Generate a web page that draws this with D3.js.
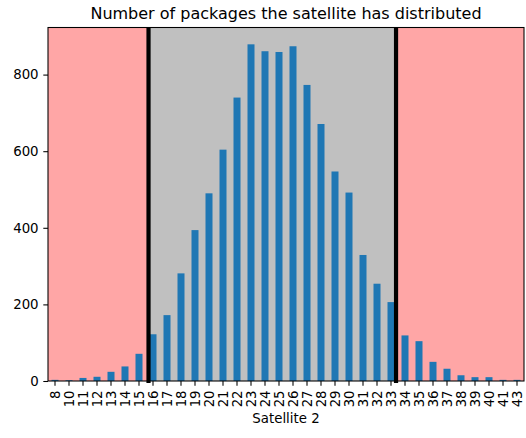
<!DOCTYPE html>
<html>
<head>
<meta charset="utf-8">
<script src="https://cdn.jsdelivr.net/npm/d3@7"></script>
<style>
  html, body { margin: 0; padding: 0; background: #fff; }
  svg { display: block; font-family: "DejaVu Sans", sans-serif; }
</style>
</head>
<body>
<svg id="chart" width="526" height="438"></svg>
<script>
// ---- data ----
const categories = ["8","10","11","12","13","14","15","16","17","18","19","20","21","22","23","24","25",
  "26","27","28","29","30","31","32","33","34","35","36","37","38","39","40","41","43"];
const counts = [3, 2, 8, 11, 24, 38, 71, 122, 172, 281, 394, 490, 604, 740, 879, 861, 859,
  874, 773, 671, 547, 492, 329, 254, 206, 119, 104, 50, 32, 15, 10, 10, 3, 3];
const yTicks = [0, 200, 400, 600, 800];
// threshold lines, in category-index units
const thresholds = [6.68, 24.36];
const title = "Number of packages the satellite has distributed";
const xLabel = "Satellite 2";

// ---- layout ----
const svg = d3.select("#chart");
const m = { left: 48, top: 27.5, right: 2, bottom: 57 };
const W = 526 - m.left - m.right;
const H = 438 - m.top - m.bottom;
const g = svg.append("g").attr("transform", `translate(${m.left},${m.top})`);

const x = d3.scaleBand().domain(categories).range([0, W]).paddingInner(0.5).paddingOuter(0.25);
const y = d3.scaleLinear().domain([0, d3.max(counts) * 1.05]).range([H, 0]);
const step = x.step();
const posX = p => step * (p + 0.5);

// background spans
g.append("rect").attr("x", 0).attr("y", 0).attr("width", posX(thresholds[0])).attr("height", H)
  .attr("fill", "#ffa6a6");
g.append("rect").attr("x", posX(thresholds[0])).attr("y", 0)
  .attr("width", posX(thresholds[1]) - posX(thresholds[0])).attr("height", H).attr("fill", "#c0c0c0");
g.append("rect").attr("x", posX(thresholds[1])).attr("y", 0)
  .attr("width", W - posX(thresholds[1])).attr("height", H).attr("fill", "#ffa6a6");

// bars
g.selectAll("rect.bar").data(counts).enter().append("rect").attr("class", "bar")
  .attr("x", (d, i) => x(categories[i]))
  .attr("y", d => y(d))
  .attr("width", x.bandwidth())
  .attr("height", d => H - y(d))
  .attr("fill", "#1f77b4");

// threshold lines
g.selectAll("line.th").data(thresholds).enter().append("line").attr("class", "th")
  .attr("x1", d => posX(d)).attr("x2", d => posX(d))
  .attr("y1", 0).attr("y2", H + 2)
  .attr("stroke", "#000").attr("stroke-width", 4.2);

// axes
const yAxis = g.append("g").call(d3.axisLeft(y).tickValues(yTicks).tickSize(4.7).tickPadding(4.7).tickFormat(d3.format("d")));
const xAxis = g.append("g").attr("transform", `translate(0,${H})`)
  .call(d3.axisBottom(x).tickSize(4.7).tickPadding(4.7));
[yAxis, xAxis].forEach(a => {
  a.select(".domain").remove();
  a.selectAll("line").attr("stroke", "#000").attr("stroke-width", 1.07);
  a.selectAll("text").attr("fill", "#000").attr("font-size", 13.33).attr("font-family", "DejaVu Sans");
});
xAxis.selectAll("text")
  .attr("text-anchor", "end")
  .attr("transform", "translate(0,9.4) rotate(-90)")
  .attr("x", 0).attr("y", 0).attr("dy", "0.35em");

// frame
g.append("rect").attr("x", 0).attr("y", 0).attr("width", W).attr("height", H)
  .attr("fill", "none").attr("stroke", "#000").attr("stroke-width", 1.07);

// title & label
svg.append("text").attr("x", m.left + W / 2).attr("y", 19).attr("text-anchor", "middle")
  .attr("font-size", 16).attr("fill", "#000").text(title);
svg.append("text").attr("x", m.left + W / 2).attr("y", 423).attr("text-anchor", "middle")
  .attr("font-size", 13.33).attr("fill", "#000").text(xLabel);
</script>
</body>
</html>
